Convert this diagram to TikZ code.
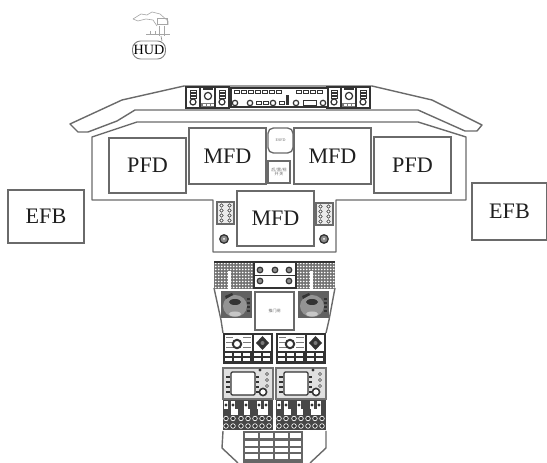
\documentclass[tikz,border=0pt]{standalone}
\usepackage{fontspec}
\setmainfont{Liberation Serif}
\newfontfamily\cjk{Noto Sans CJK SC}
\definecolor{ln}{HTML}{6A6A6A}
\definecolor{dk}{HTML}{333333}
\definecolor{md}{HTML}{7A7A7A}
\tikzset{
 shell/.style={draw=ln,line width=1.05pt,line join=round},
 dispbox/.style={draw=ln,line width=1.05pt,fill=white,inner sep=0pt,font=\fontsize{16.6pt}{18pt}\selectfont,text=black!88},
 tiny/.style={inner sep=0pt,align=center,text=black!60,font=\cjk\fontsize{3pt}{3.6pt}\selectfont},
 dkline/.style={draw=dk,line width=0.8pt},
 obar/.style={draw=dk,line width=0.35pt,fill=white},
 knob/.style={draw=dk,line width=0.9pt,fill=white},
}
\newcommand{\topgroup}[1]{%
 \begin{scope}[xshift=#1*0.75pt]
  \fill[white] (186,87) rectangle (229,108);
  \draw[dkline] (186,87) rectangle (229,108);
  \draw[dkline] (200,87) -- (200,108) (215,87) -- (215,108);
  \foreach \yy in {90,93,96}{\draw[obar] (190,\yy) rectangle (196,\yy+2.2); \draw[obar] (219,\yy) rectangle (225,\yy+2.2);}
  \draw[knob] (193,102) circle (3);
  \draw[knob] (222,102) circle (3);
  \draw[knob] (208,96) circle (3.6);
  \fill[dk] (203,88) rectangle (213,90.5);
  \fill[md] (201,103) rectangle (214,107);
  \foreach \xx in {203,207,211}{\fill[white] (\xx,104) rectangle (\xx+2.6,106);}
 \end{scope}}
\newcommand{\fmspanel}[1]{%
 \begin{scope}[xshift=#1*0.75pt]
  \fill[dk] (223,333) rectangle (273,364);
  \fill[white] (225,335) rectangle (252,351);
  \fill[white] (254,335) rectangle (271,351);
  \foreach \yy in {337,342,347}{\fill[md] (226,\yy) rectangle (233,\yy+1); \fill[md] (243,\yy) rectangle (251,\yy+1);}
  \draw[dk,line width=1.5pt,fill=white] (237,344) circle (4.2);
  \fill[dk] (262.5,336) -- (269,343) -- (262.5,350) -- (256,343) -- cycle;
  \fill[md] (262.5,343) circle (2);
  \foreach \xx in {225,234,243,254,263}{\foreach \yy in {353,358}{\fill[white] (\xx,\yy) rectangle (\xx+7.4,\yy+3.2);}}
 \end{scope}}
\newcommand{\cdupanel}[1]{%
 \begin{scope}[xshift=#1*0.75pt]
  \draw[black!55,line width=0.8pt,fill=black!12] (223,368) rectangle (273,399);
  \draw[dk,line width=0.9pt,fill=white,rounded corners=1pt] (231,372) rectangle (255,395);
  \foreach \yy in {376,381,386,391}{\fill[dk] (226,\yy) rectangle (230,\yy+1.6); \fill[dk] (256,\yy) rectangle (259,\yy+1.6);}
  \foreach \yy in {374,380,386}{\draw[dk,line width=0.4pt,fill=white] (267,\yy) circle (1.6);}
  \draw[dk,line width=1.2pt,fill=white] (263,392) circle (3.6);
  \fill[dk] (260,370) circle (1.6);
 \end{scope}}
\newcommand{\knobpanel}[1]{%
 \begin{scope}[xshift=#1*0.75pt]
  \fill[black!72] (223,400) rectangle (273,430);
  \foreach \xx in {226,233,246,259,266}{\fill[white] (\xx-2.2,401) rectangle (\xx+2.2,409);\fill[dk] (\xx,405) circle (1.6);}
  \fill[white] (231,409) rectangle (238,415); \fill[white] (244,409) rectangle (250,415); \fill[white] (258,409) rectangle (268,415);
  \foreach \xx in {226,233,241,248,255,262,269}{\foreach \yy in {418.5,426}{\draw[white,line width=0.5pt,fill=dk] (\xx,\yy) circle (2.3);}}
 \end{scope}}
\begin{document}
\begin{tikzpicture}[x=0.75pt,y=-0.75pt]
\useasboundingbox (0,0) rectangle (547,463);
\fill[white] (0,0) rectangle (547,463);
% glare shield
\draw[shell,fill=white] (184,86) -- (372,86) -- (432,100) -- (482,125) -- (477,131) -- (465,131) -- (418,110) -- (135,110) -- (117,121) -- (88,132) -- (78,132) -- (70,124) -- (122,100) -- cycle;
% main panel
\draw[shell] (92,137) -- (137,122) -- (418,122) -- (466,137) -- (466,200) -- (336,200) -- (336,252) -- (213,252) -- (213,200) -- (92,200) -- cycle;
% top panel
\topgroup{0}
\topgroup{141}
\draw[dkline,fill=white] (231,88) rectangle (328,107);
\foreach \xx in {234,241,248,255,262,269,276,296,303,310,317}{\draw[obar] (\xx,90.5) rectangle (\xx+5.6,93.5);}
\foreach \xx in {235,250,273,296,323}{\draw[knob] (\xx,103) circle (2.7);}
\foreach \xx in {256,263,279}{\draw[obar] (\xx,101.5) rectangle (\xx+5,104.5);}
\draw[obar] (303,100.5) rectangle (316,105.5);
\fill[dk] (286,95) rectangle (289,105);
% displays
\node[dispbox,minimum width=77pt*0.75,minimum height=55pt*0.75] (pfdl) at (147.5,165.5) {PFD};
\node[dispbox,minimum width=77pt*0.75,minimum height=56pt*0.75] (pfdr) at (412.5,165) {PFD};
\node[dispbox,minimum width=77pt*0.75,minimum height=56pt*0.75] (mfdl) at (227.5,156) {MFD};
\node[dispbox,minimum width=77pt*0.75,minimum height=56pt*0.75] (mfdr) at (332.5,156) {MFD};
\node[dispbox,minimum width=77pt*0.75,minimum height=55pt*0.75] (mfdc) at (275.5,218.5) {MFD};
\node[dispbox,minimum width=76pt*0.75,minimum height=53pt*0.75] (efbl) at (46,216.5) {EFB};
\node[dispbox,minimum width=75pt*0.75,minimum height=57pt*0.75] (efbr) at (509.5,211.5) {EFB};
\node[draw=ln,line width=1pt,rounded corners=4pt,minimum width=25pt*0.75,minimum height=25pt*0.75,inner sep=0pt,text=black!60,font=\fontsize{3pt}{4pt}\selectfont] (sfd) at (280.5,140.5) {ESFD};
\node[draw=ln,line width=1pt,minimum width=22pt*0.75,minimum height=22pt*0.75,tiny] (sw) at (279,172) {后/雷/视\\开 关};
% key grids and knobs
\foreach \ox/\oy in {217/202,316/203}{
 \draw[ln,line width=0.8pt,fill=black!8] (\ox,\oy) rectangle (\ox+17,\oy+22);
 \foreach \i in {0,1}{\foreach \j in {0,1,2,3}{\draw[dk,line width=0.4pt,fill=white] (\ox+4.5+\i*8,\oy+3.5+\j*5) circle (1.7);}}
}
\foreach \xx in {224,324}{\draw[dk,line width=1pt,fill=black!45] (\xx,239) circle (4.2); \fill[white] (\xx,239) circle (1);}
% HUD
\begin{scope}[draw=black!35,line width=0.45pt]
\draw (133,19) -- (141,14) -- (147,15) -- (152,12) -- (160,14) -- (168,21) -- (168,25);
\draw (133,19) -- (138,21) -- (146,19) -- (153,20) -- (157,26);
\draw (157,18) rectangle (167,24);
\draw (150,31) -- (150,35) (155,31) -- (155,35) (159,26) -- (159,36) (164,26) -- (164,36) (146,34) -- (170,34);
\draw[black!45] (161,36) -- (162,41);
\end{scope}
\node[draw=black!50,line width=0.7pt,rounded corners=6pt,minimum width=33pt*0.75,minimum height=18pt*0.75,inner sep=0pt,font=\fontsize{10.6pt}{12pt}\selectfont] (hud) at (149,50) {HUD};
% pedestal outline
\draw[shell] (214,288) -- (221,320) -- (223,333);
\draw[shell] (335,288) -- (329,320) -- (326,333);
\draw[shell] (223,431) -- (222,448) -- (238,463);
\draw[shell] (326,431) -- (326,448) -- (310,463);
% overhead dotted panels
\foreach \ox in {214,296}{
 \fill[black!55] (\ox,262) rectangle (\ox+39,289);
 \foreach \i in {0,...,12}{\foreach \j in {0,...,8}{\fill[white] (\ox+1.7+\i*3,263.5+\j*3) circle (0.9);}}
 \fill[white] (\ox+14,271) rectangle (\ox+17,289);
}
\draw[dk,line width=0.9pt] (214,262) -- (335,262);
\fill[white] (254,262) rectangle (296,288);
\draw[dkline] (254,262) rectangle (296,288);
\draw[dk,line width=0.7pt] (254,275) -- (296,275);
\foreach \xx/\yy in {260/270,275/270,289/270,260/281,289/281}{\draw[dk,line width=0.9pt,fill=black!45] (\xx,\yy) circle (2.8);}
% trackball panels
\foreach \ox in {221,298}{
 \fill[black!62] (\ox,291) rectangle (\ox+31,318);
 \fill[black!42] (\ox+14,306) ellipse (12 and 11);
 \fill[black!22] (\ox+14,314) ellipse (6 and 2.5);
 \fill[dk] (\ox+14,302) ellipse (6 and 3);
 \foreach \yy in {298,302,306,310}{\fill[dk] (\ox+26,\yy) rectangle (\ox+29,\yy+2);}
 \fill[dk] (\ox+4,296) -- (\ox+11,293) -- (\ox+12,295) -- (\ox+5,299) -- cycle;
}
% centre white box
\node[draw=ln,line width=1pt,minimum width=39pt*0.75,minimum height=38pt*0.75,tiny] (tq) at (274.5,311) {推门闸};
% lower pedestal
\fmspanel{0}
\fmspanel{53}
\cdupanel{0}
\cdupanel{53}
\knobpanel{0}
\knobpanel{53}
% bottom block
\fill[black!60] (243,431) rectangle (303,463);
\foreach \xx in {245,260,275}{\foreach \yy in {433.5,441.5,448,454.5}{\fill[white] (\xx,\yy) rectangle (\xx+12.5,\yy+4.2);}}
\foreach \yy in {433.5,441.5,448,454.5}{\fill[white] (290,\yy) rectangle (301,\yy+4.2);}
\end{tikzpicture}
\end{document}
